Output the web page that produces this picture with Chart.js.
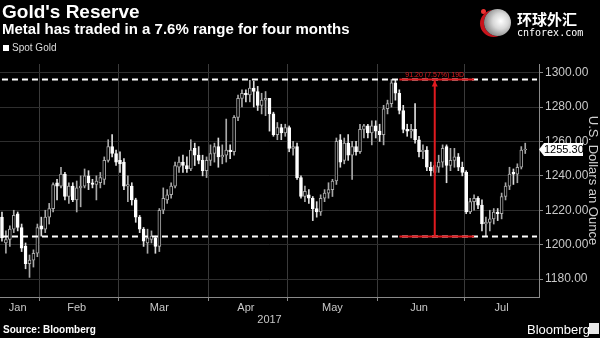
<!DOCTYPE html>
<html>
<head>
<meta charset="utf-8">
<script src="https://cdn.jsdelivr.net/npm/chart.js@4.4.1/dist/chart.umd.min.js"></script>
<style>
    body { margin: 0; width: 600px; height: 338px; background: #000; overflow: hidden; position: relative;
           font-family: "Liberation Sans", Arial, sans-serif; color: #fff; }
    #chart { position: absolute; left: 0; top: 0; }
    .txt { position: absolute; white-space: nowrap; line-height: 1; }
    .logo { position: absolute; left: 484px; top: 9px; width: 27px; height: 27px; border-radius: 50%;
            background: radial-gradient(circle at 62% 45%, #fff 0%, #d8d8d8 35%, #7a7a7a 80%);
            box-shadow: -4px 1px 0 #c8141c; }
    .dot { position: absolute; left: 481px; top: 9px; width: 5px; height: 5px; border-radius: 50%; background: #e33; }
    .swatch { position: absolute; left: 3px; top: 45px; width: 6px; height: 6px; background: #fff; }
    .bbicon { position: absolute; left: 589px; top: 323px; width: 10px; height: 11px; background: #e8e8e8; }
</style>
</head>
<body>
<canvas id="chart" width="600" height="338"></canvas>

<div class="txt" style="left:2px;top:2px;font-size:19px;font-weight:bold">Gold's Reserve</div>
<div class="txt" style="left:2px;top:21px;font-size:15px;font-weight:bold">Metal has traded in a 7.6% range for four months</div>
<div class="swatch"></div>
<div class="txt" style="left:12px;top:43px;font-size:10px;color:#ddd">Spot Gold</div>

<div class="dot"></div>
<div class="logo"></div>
<div class="txt" style="left:517px;top:11px;font-size:15px;font-weight:bold;font-family:'Noto Sans CJK SC'">环球外汇</div>
<div class="txt" style="left:517px;top:28px;font-size:10px;font-family:'DejaVu Sans Mono'">cnforex.com</div>

<div class="txt" style="left:3px;top:325px;font-size:10px;font-weight:bold">Source: Bloomberg</div>
<div class="txt" style="left:527px;top:323px;font-size:13px">Bloomberg</div>
<div class="bbicon"></div>

<script>
// trading days, Jan 18 - Jul 24 2017 (last three slots are empty space at the right)
const dates = [
    'Jan 18','Jan 19','Jan 20','Jan 23','Jan 24','Jan 25','Jan 26','Jan 27','Jan 30','Jan 31',
    'Feb 1','Feb 2','Feb 3','Feb 6','Feb 7','Feb 8','Feb 9','Feb 10','Feb 13','Feb 14','Feb 15','Feb 16','Feb 17','Feb 20','Feb 21','Feb 22','Feb 23','Feb 24','Feb 27','Feb 28',
    'Mar 1','Mar 2','Mar 3','Mar 6','Mar 7','Mar 8','Mar 9','Mar 10','Mar 13','Mar 14','Mar 15','Mar 16','Mar 17','Mar 20','Mar 21','Mar 22','Mar 23','Mar 24','Mar 27','Mar 28','Mar 29','Mar 30','Mar 31',
    'Apr 3','Apr 4','Apr 5','Apr 6','Apr 7','Apr 10','Apr 11','Apr 12','Apr 13','Apr 14','Apr 17','Apr 18','Apr 19','Apr 20','Apr 21','Apr 24','Apr 25','Apr 26','Apr 27','Apr 28',
    'May 1','May 2','May 3','May 4','May 5','May 8','May 9','May 10','May 11','May 12','May 15','May 16','May 17','May 18','May 19','May 22','May 23','May 24','May 25','May 26','May 29','May 30','May 31',
    'Jun 1','Jun 2','Jun 5','Jun 6','Jun 7','Jun 8','Jun 9','Jun 12','Jun 13','Jun 14','Jun 15','Jun 16','Jun 19','Jun 20','Jun 21','Jun 22','Jun 23','Jun 26','Jun 27','Jun 28','Jun 29','Jun 30',
    'Jul 3','Jul 4','Jul 5','Jul 6','Jul 7','Jul 10','Jul 11','Jul 12','Jul 13','Jul 14','Jul 17','Jul 18','Jul 19','Jul 20','Jul 21','Jul 24',
    'Jul 25','Jul 26','Jul 27'
];

const opens = [
    1216,1201,1203,1209,1218,1210,1199,1189,1191,1195,
    1211,1209,1216,1221,1236,1234,1241,1228,1234,1226,1233,1234,1240,1236,1235,1236,1238,1249,1257,1253,
    1249,1248,1234,1234,1226,1216,1209,1201,1203,1204,1199,1220,1226,1229,1234,1245,1248,1246,1244,1256,1252,1249,1243,
    1249,1253,1257,1251,1252,1255,1254,1274,1285,1288,1287,1291,1289,1281,1284,1285,1276,1264,1268,1265,
    1268,1256,1257,1239,1228,1229,1227,1221,1219,1227,1230,1232,1237,1261,1249,1259,1252,1257,1254,1267,1269,1265,1269,
    1266,1264,1279,1282,1294,1288,1278,1267,1266,1267,1261,1254,1255,1245,1242,1245,1248,1257,1246,1249,1251,1245,
    1242,1219,1225,1227,1223,1212,1213,1215,1219,1218,1228,1234,1242,1241,1245,1255
];
const highs = [
    1219,1208,1211,1220,1219,1212,1201,1194,1197,1212,
    1216,1220,1224,1236,1238,1245,1242,1236,1236,1237,1240,1244,1243,1238,1240,1242,1251,1261,1264,1255,
    1254,1250,1240,1236,1227,1217,1210,1209,1208,1205,1221,1233,1232,1236,1248,1251,1252,1251,1261,1259,1257,1252,1251,
    1258,1259,1262,1258,1273,1258,1275,1287,1290,1290,1295.5,1295,1292,1288,1289,1285,1277,1271,1270,1270,
    1269,1260,1259,1240,1234,1232,1228,1225,1229,1232,1236,1238,1262,1264,1262,1264,1260,1260,1270,1270,1270,1272,1272,
    1270,1281,1284,1296,1296,1290,1281,1270,1270,1282,1263,1258,1257,1248,1248,1252,1258,1258,1256,1256,1253,1248,
    1243,1227,1229,1228,1226,1216,1220,1221,1221,1230,1236,1245,1244,1247,1257,1259
];
const lows = [
    1202,1195,1199,1207,1208,1196,1186,1181,1187,1193,
    1205,1207,1212,1219,1226,1233,1226,1224,1225,1219,1222,1233,1232,1233,1226,1233,1235,1248,1251,1246,
    1242,1232,1225,1223,1213,1207,1199,1195,1201,1195,1196,1218,1224,1227,1233,1242,1242,1242,1243,1246,1247,1240,1239,
    1246,1248,1245,1247,1248,1250,1252,1272,1280,1283,1283,1280,1278,1276,1275,1266,1263,1261,1261,1263,
    1254,1252,1238,1227,1225,1224,1214,1216,1217,1225,1227,1228,1235,1245,1247,1249,1238,1252,1253,1262,1262,1258,1262,
    1260,1258,1276,1280,1284,1276,1265,1263,1262,1259,1251,1250,1243,1240,1240,1242,1245,1236,1243,1245,1243,1240,
    1218,1218,1220,1221,1208,1204.8,1208,1212,1214,1215,1226,1232,1235,1236,1244,1253
];
const closes = [
    1204,1203,1209,1217,1210,1198,1189,1191,1195,1210,
    1209,1216,1221,1235,1234,1241,1228,1234,1226,1233,1234,1240,1236,1235,1237,1239,1249,1257,1253,1248,
    1247,1234,1235,1226,1216,1209,1202,1204,1205,1199,1220,1227,1229,1234,1246,1248,1246,1244,1255,1252,1249,1243,1249,
    1253,1257,1251,1252,1255,1254,1274,1285,1288,1287,1291,1289,1281,1284,1285,1276,1264,1268,1265,1268,
    1256,1257,1239,1228,1231,1227,1221,1219,1227,1230,1232,1237,1260,1248,1259,1252,1257,1254,1267,1269,1265,1269,1266,
    1264,1279,1282,1294,1288,1278,1267,1266,1267,1261,1254,1255,1245,1243,1246,1248,1256,1246,1249,1251,1245,1242,
    1219,1225,1227,1223,1212,1213,1215,1219,1218,1228,1234,1241,1241,1245,1255,1255.3
];

// month names and the day each is printed under
const monthNames = ['Jan','Feb','Mar','Apr','May','Jun','Jul'];
const monthLabelDays = ['Jan 24','Feb 14','Mar 15','Apr 14','May 16','Jun 15','Jul 14'];
const yTicks = [1180, 1200, 1220, 1240, 1260, 1280, 1300];

// the 7.6% range marked on the chart
const rangeHigh = 1296;
const rangeLow = 1204.8;
const rangeFrom = 'Jun 8', rangeTo = 'Jul 5', rangeAt = 'Jun 21';

const RED = '#e01a1f';
const HOLLOW = '#a8a8a8';

const isUp = i => closes[i] >= opens[i];
const monthStart = i => i > 0 && i < dates.length && dates[i].slice(0, 3) !== dates[i - 1].slice(0, 3);

const wickData = dates.map((d, i) => opens[i] == null ? null : [lows[i], highs[i]]);
const bodyData = dates.map((d, i) => opens[i] == null ? null
    : [Math.min(opens[i], closes[i]), Math.max(opens[i], closes[i])]);

const iFrom = dates.indexOf(rangeFrom), iTo = dates.indexOf(rangeTo);
const levelLine = v => dates.map(() => v);
const redLine = v => dates.map((d, i) => (i >= iFrom && i <= iTo) ? v : null);

const annotations = {
    id: 'annotations',
    afterDatasetsDraw(chart) {
        const { ctx, scales: { x, y } } = chart;
        const xm = x.getPixelForValue(dates.indexOf(rangeAt));
        const yt = y.getPixelForValue(rangeHigh), yb = y.getPixelForValue(rangeLow);
        ctx.save();
        ctx.strokeStyle = RED;
        ctx.fillStyle = RED;
        ctx.lineWidth = 2;
        ctx.beginPath();
        ctx.moveTo(xm, yt);
        ctx.lineTo(xm, yb);
        ctx.stroke();
        ctx.beginPath();
        ctx.moveTo(xm, yt + 1);
        ctx.lineTo(xm - 3, yt + 7);
        ctx.lineTo(xm + 3, yt + 7);
        ctx.closePath();
        ctx.fill();
        const pct = ((rangeHigh / rangeLow - 1) * 100).toFixed(2);
        ctx.font = '7px "Liberation Sans"';
        ctx.textAlign = 'center';
        ctx.textBaseline = 'bottom';
        ctx.fillText((rangeHigh - rangeLow).toFixed(2) + ' (' + pct + '%) ' + (iTo - iFrom) + 'D', xm, yt - 1);
        ctx.restore();
    },
    afterDraw(chart) {
        // last price tag on the right axis
        const { ctx, scales: { y }, chartArea } = chart;
        const last = closes[closes.length - 1];
        const yp = y.getPixelForValue(last);
        const x0 = chartArea.right + 3;
        ctx.save();
        ctx.fillStyle = '#fff';
        ctx.beginPath();
        ctx.moveTo(x0 - 3, yp);
        ctx.lineTo(x0 + 2, yp - 6.5);
        ctx.lineTo(x0 + 41, yp - 6.5);
        ctx.lineTo(x0 + 41, yp + 6.5);
        ctx.lineTo(x0 + 2, yp + 6.5);
        ctx.closePath();
        ctx.fill();
        ctx.fillStyle = '#000';
        ctx.font = '11px "Liberation Sans"';
        ctx.textBaseline = 'middle';
        ctx.fillText(last.toFixed(2), x0 + 2, yp + 0.5);
        ctx.restore();
    }
};

new Chart(document.getElementById('chart'), {
    type: 'bar',
    data: {
        labels: dates,
        datasets: [
            { type: 'line', data: redLine(rangeHigh), borderColor: RED, borderWidth: 2, pointRadius: 0, order: 0 },
            { type: 'line', data: redLine(rangeLow), borderColor: RED, borderWidth: 2, pointRadius: 0, order: 0 },
            { type: 'line', data: levelLine(rangeHigh), borderColor: '#fff', borderWidth: 2, borderDash: [6, 4], pointRadius: 0, order: 1 },
            { type: 'line', data: levelLine(rangeLow), borderColor: '#fff', borderWidth: 2, borderDash: [6, 4], pointRadius: 0, order: 1 },
            {
                data: bodyData, grouped: false, barThickness: 3, minBarLength: 1, order: 2,
                backgroundColor: ctx => isUp(ctx.dataIndex) ? '#000' : '#fff',
                borderColor: ctx => isUp(ctx.dataIndex) ? HOLLOW : '#fff',
                borderWidth: 1, borderSkipped: false
            },
            {
                data: wickData, grouped: false, barThickness: 1, order: 3,
                backgroundColor: ctx => isUp(ctx.dataIndex) ? HOLLOW : '#ddd'
            }
        ]
    },
    options: {
        responsive: false,
        animation: false,
        events: [],
        layout: { padding: { top: 64, bottom: 11, left: 0, right: 0 } },
        plugins: { legend: { display: false }, tooltip: { enabled: false } },
        scales: {
            x: {
                offset: true,
                grid: {
                    offset: true,
                    tickLength: 4,
                    color: ctx => monthStart(ctx.index) ? '#3a3a3a' : 'rgba(0,0,0,0)',
                    tickColor: ctx => monthStart(ctx.index) ? '#8a8a8a' : 'rgba(0,0,0,0)'
                },
                border: { color: '#8a8a8a' },
                ticks: {
                    autoSkip: false, maxRotation: 0, padding: 0, color: '#c8c8c8', font: { size: 11 },
                    callback: (v, i) => {
                        const k = monthLabelDays.indexOf(dates[i]);
                        return k < 0 ? '' : monthNames[k];
                    }
                },
                title: { display: true, text: '2017', color: '#c8c8c8', font: { size: 11 }, padding: { top: 0, bottom: 0 } },
                afterFit: s => { s.height = 30; }
            },
            y: {
                position: 'right',
                min: 1169.6,
                max: 1305,
                afterBuildTicks: s => { s.ticks = yTicks.map(v => ({ value: v })); },
                grid: { color: '#2e2e2e', tickLength: 4, tickColor: '#8a8a8a' },
                border: { color: '#8a8a8a' },
                ticks: { color: '#c8c8c8', font: { size: 12 }, padding: 2, callback: v => v.toFixed(2) },
                title: { display: true, text: 'U.S. Dollars an Ounce', color: '#d0d0d0', font: { size: 13 }, padding: { top: 0, bottom: 0 } },
                afterFit: s => { s.width = 61; }
            }
        }
    },
    plugins: [annotations]
});
</script>
</body>
</html>
